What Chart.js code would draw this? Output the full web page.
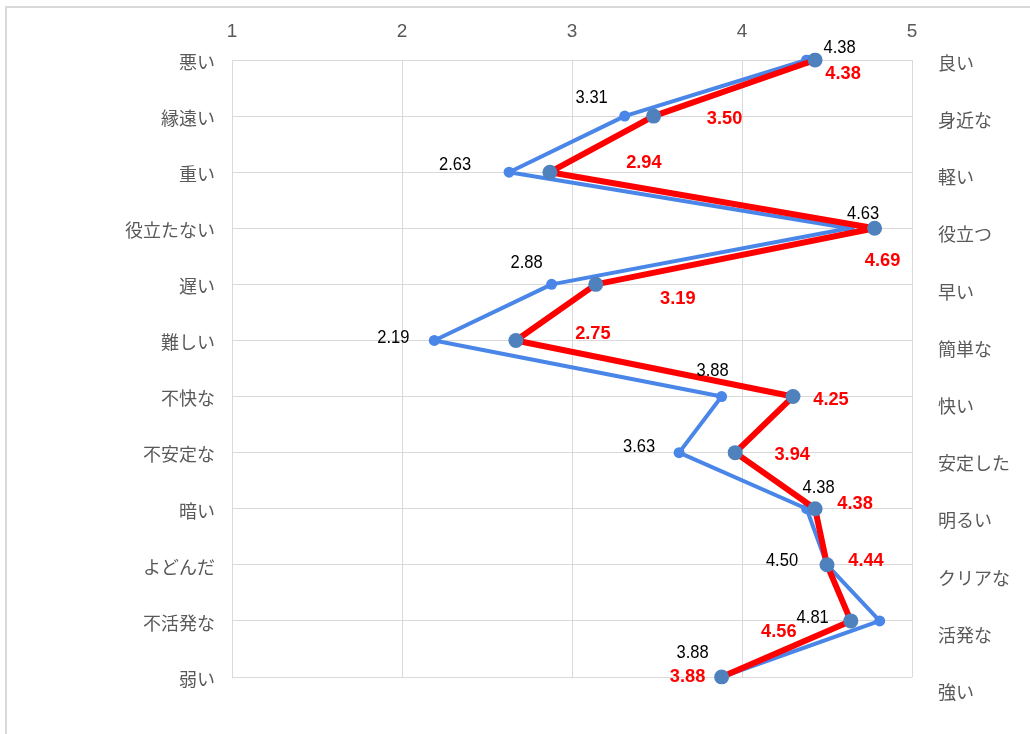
<!DOCTYPE html>
<html>
<head>
<meta charset="utf-8">
<script src="https://cdn.jsdelivr.net/npm/chart.js@4.4.1/dist/chart.umd.min.js"></script>
<style>
  html, body { margin: 0; padding: 0; background: #fff; }
  #wrap { width: 1030px; height: 734px; }
</style>
</head>
<body>
<div id="wrap"><canvas id="c" width="1030" height="734"></canvas></div>
<script>
const leftLabels = ['悪い','縁遠い','重い','役立たない','遅い','難しい','不快な','不安定な','暗い','よどんだ','不活発な','弱い'];
const rightLabels = ['良い','身近な','軽い','役立つ','早い','簡単な','快い','安定した','明るい','クリアな','活発な','強い'];

// blue series (markers sit on their labels)
const blueValues = [4.38, 3.31, 2.63, 4.63, 2.88, 2.19, 3.88, 3.63, 4.38, 4.50, 4.81, 3.88];
const blueLabels = ['4.38','3.31','2.63','4.63','2.88','2.19','3.88','3.63','4.38','4.50','4.81','3.88'];

// red series: plotted where the markers are in the picture, labels as printed
const redValues = [4.43, 3.48, 2.87, 4.78, 3.14, 2.67, 4.30, 3.96, 4.43, 4.50, 4.64, 3.88];
const redLabels = ['4.38','3.50','2.94','4.69','3.19','2.75','4.25','3.94','4.38','4.44','4.56','3.88'];

const xTicks = [1, 2, 3, 4, 5];

// label placement relative to each marker (px)
const blueOffsets = [[33,-12],[-33,-18],[-54,-7],[14,-15],[-25,-22],[-41,-3],[-9,-26],[-40,-6],[12,-21],[-45,-4],[-67,-3],[-29,-24]];
const redOffsets = [[28,14],[71,3],[94,-9],[8,32],[82,14],[77,-7],[38,3],[57,2],[40,-5],[39,-4],[-72,11],[-34,0]];

const JP = '"Noto Sans CJK JP", "Noto Sans", sans-serif';
const NUM = '"Liberation Sans", Arial, sans-serif';

const frame = {
  id: 'frame',
  beforeDraw(chart) {
    const ctx = chart.ctx;
    ctx.save();
    ctx.strokeStyle = '#d9d9d9';
    ctx.lineWidth = 2;
    ctx.strokeRect(6, 7, 1100, 800);
    ctx.restore();
  }
};

const sideLabels = {
  id: 'sideLabels',
  afterDraw(chart) {
    const ctx = chart.ctx, y = chart.scales.y;
    ctx.save();
    ctx.font = '18px ' + JP;
    ctx.fillStyle = '#595959';
    ctx.textAlign = 'left';
    ctx.textBaseline = 'middle';
    rightLabels.forEach((t, i) => {
      ctx.fillText(t, 938, y.getPixelForValue(i) + 3 + i * 1.1);
    });
    ctx.restore();
  }
};

const valueLabels = {
  id: 'valueLabels',
  afterDatasetsDraw(chart) {
    const ctx = chart.ctx;
    const draw = (dsIndex, labels, offsets, font, color, sx) => {
      const meta = chart.getDatasetMeta(dsIndex);
      meta.data.forEach((pt, i) => {
        ctx.save();
        ctx.font = font;
        ctx.fillStyle = color;
        ctx.textAlign = 'center';
        ctx.textBaseline = 'middle';
        ctx.translate(pt.x + offsets[i][0], pt.y + offsets[i][1]);
        ctx.scale(sx, 1);
        ctx.fillText(labels[i], 0, 0);
        ctx.restore();
      });
    };
    draw(1, blueLabels, blueOffsets, '19px ' + NUM, '#000', 0.87);
    draw(0, redLabels, redOffsets, 'bold 19px ' + NUM, '#ff0000', 0.96);
  }
};

new Chart(document.getElementById('c'), {
  type: 'line',
  data: {
    labels: leftLabels,
    datasets: [
      { label: 'red', data: redValues, borderColor: '#ff0000', borderWidth: 6, borderJoinStyle: 'round', pointRadius: 7.5, pointBackgroundColor: '#4f81bd', pointBorderWidth: 0, tension: 0, order: 0 },
      { label: 'blue', data: blueValues, borderColor: '#4a86e8', borderWidth: 4, borderJoinStyle: 'round', pointRadius: 5.5, pointBackgroundColor: '#4a86e8', pointBorderWidth: 0, tension: 0, order: 1 }
    ]
  },
  options: {
    indexAxis: 'y',
    responsive: false,
    animation: false,
    layout: { padding: { left: 0, right: 118, top: 0, bottom: 57 } },
    plugins: { legend: { display: false }, tooltip: { enabled: false } },
    scales: {
      x: {
        type: 'linear', position: 'top', min: 1, max: 5,
        afterBuildTicks: s => { s.ticks = xTicks.map(v => ({ value: v })); },
        afterFit: s => { s.height = 60; },
        grid: { color: '#d9d9d9', drawTicks: false },
        border: { display: false },
        ticks: { color: '#595959', font: { family: NUM, size: 19 }, padding: 17 }
      },
      y: {
        type: 'category', offset: false,
        afterFit: s => { s.width = 232; },
        grid: { color: '#d9d9d9', drawTicks: false },
        border: { display: false },
        ticks: { color: '#595959', font: { family: JP, size: 18 }, padding: 17, labelOffset: 2 }
      }
    }
  },
  plugins: [frame, sideLabels, valueLabels]
});
</script>
</body>
</html>
